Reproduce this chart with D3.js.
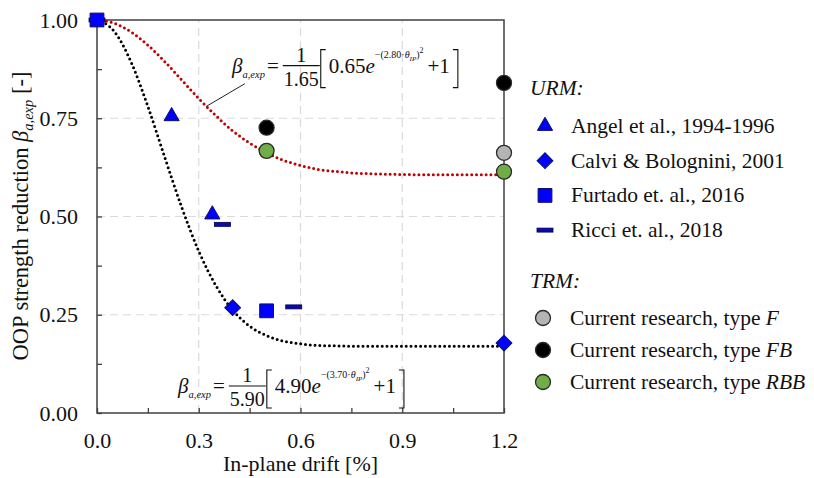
<!DOCTYPE html>
<html>
<head>
<script src="https://cdnjs.cloudflare.com/ajax/libs/d3/7.8.5/d3.min.js"></script>
<style>
  body { margin: 0; padding: 0; background: #fff; }
  svg text { font-family: "Liberation Serif", "DejaVu Serif", serif; fill: #111; }
  .tick text { font-size: 22px; }
  .tick line { stroke: #404040; stroke-width: 1.3; }
</style>
</head>
<body>
<svg id="chart" width="814" height="478" font-family="Liberation Serif"></svg>
<script>
// fitted curves
const fitDrift = [0, 0.05, 0.1, 0.15, 0.2, 0.25, 0.3, 0.35, 0.4, 0.45, 0.5, 0.55, 0.6, 0.65, 0.7, 0.75, 0.8, 0.9, 1.0, 1.1, 1.2];
const fitTRM = [1.000, 0.992, 0.970, 0.936, 0.894, 0.847, 0.800, 0.757, 0.718, 0.687, 0.662, 0.643, 0.630, 0.620, 0.615, 0.611, 0.609, 0.607, 0.606, 0.606, 0.606];
const fitURM = [1.000, 0.972, 0.894, 0.780, 0.650, 0.523, 0.412, 0.325, 0.262, 0.221, 0.197, 0.183, 0.176, 0.172, 0.171, 0.170, 0.170, 0.170, 0.170, 0.170, 0.170];

// test points
const angelDrift = [0.22, 0.34];
const angelBeta = [0.755, 0.505];
const calviDrift = [0.40, 1.20];
const calviBeta = [0.268, 0.178];
const ricciDrift = [0.0, 0.37, 0.58];
const ricciBeta = [1.0, 0.48, 0.27];
const furtadoDrift = [0.0, 0.50];
const furtadoBeta = [1.0, 0.26];
const typeFDrift = [1.20];
const typeFBeta = [0.662];
const typeFBDrift = [0.50, 1.20];
const typeFBBeta = [0.726, 0.840];
const typeRBBDrift = [0.50, 1.20];
const typeRBBBeta = [0.667, 0.614];

const xTicks = [0, 0.15, 0.3, 0.45, 0.6, 0.75, 0.9, 1.05, 1.2];
const xLabels = ['0.0', '', '0.3', '', '0.6', '', '0.9', '', '1.2'];
const yTicks = [0, 0.125, 0.25, 0.375, 0.5, 0.625, 0.75, 0.875, 1];
const yLabels = ['0.00', '', '0.25', '', '0.50', '', '0.75', '', '1.00'];

const svg = d3.select('#chart');
const x = d3.scaleLinear().domain([0, 1.2]).range([97, 504]);
const y = d3.scaleLinear().domain([0, 1]).range([413, 20]);

// grid
const grid = svg.append('g').attr('stroke', '#dadada').attr('stroke-width', 1.2).attr('stroke-dasharray', '8,5');
grid.selectAll('.gx').data([0.3, 0.6, 0.9]).enter().append('line')
  .attr('x1', d => x(d)).attr('x2', d => x(d)).attr('y1', y(0)).attr('y2', y(1));
grid.selectAll('.gy').data([0.25, 0.5, 0.75]).enter().append('line')
  .attr('y1', d => y(d)).attr('y2', d => y(d)).attr('x1', x(0)).attr('x2', x(1.2));

// axes
const xAxis = d3.axisBottom(x).tickValues(xTicks).tickSize(-5).tickPadding(19)
  .tickFormat((d, i) => xLabels[i]);
const yAxis = d3.axisLeft(y).tickValues(yTicks).tickSize(-5).tickPadding(19)
  .tickFormat((d, i) => yLabels[i]);
svg.append('g').attr('transform', `translate(0,${y(0)})`).call(xAxis)
  .attr('font-family', null).attr('font-size', null)
  .call(g => g.select('.domain').remove());
svg.append('g').attr('transform', `translate(${x(0)},0)`).call(yAxis)
  .attr('font-family', null).attr('font-size', null)
  .call(g => g.select('.domain').remove());

svg.append('rect').attr('x', x(0)).attr('y', y(1)).attr('width', x(1.2) - x(0)).attr('height', y(0) - y(1))
  .attr('fill', 'none').attr('stroke', '#404040').attr('stroke-width', 1.5);

// axis titles
svg.append('text').attr('x', (x(0) + x(1.2)) / 2).attr('y', 471).attr('text-anchor', 'middle')
  .style('font-size', '22px').text('In-plane drift [%]');
const yt = svg.append('text').attr('transform', 'translate(28,216) rotate(-90)').attr('text-anchor', 'middle')
  .style('font-size', '22.5px');
yt.append('tspan').text('OOP strength reduction ');
yt.append('tspan').style('font-style', 'italic').text('β');
yt.append('tspan').style('font-style', 'italic').style('font-size', '14.5px').attr('dy', 5).text('a,exp');
yt.append('tspan').attr('dy', -5).text(' [-]');

// fitted curves
const line = d3.line().x(d => x(d[0])).y(d => y(d[1])).curve(d3.curveMonotoneX);
svg.append('path').datum(d3.zip(fitDrift, fitURM)).attr('d', line)
  .attr('fill', 'none').attr('stroke', '#000').attr('stroke-width', 3)
  .attr('stroke-linecap', 'round').attr('stroke-dasharray', '0,4.8');
svg.append('path').datum(d3.zip(fitDrift, fitTRM)).attr('d', line)
  .attr('fill', 'none').attr('stroke', '#c00000').attr('stroke-width', 3)
  .attr('stroke-linecap', 'round').attr('stroke-dasharray', '0,4.8');

// markers
const blue = '#0000ff', blueEdge = '#101060';
function drawSym(g, type) {
  if (type === 'triangle') {
    g.append('path').attr('d', d3.symbol(d3.symbolTriangle, 100)()).attr('fill', blue).attr('stroke', blueEdge).attr('stroke-width', 1);
  } else if (type === 'diamond') {
    g.append('path').attr('d', d3.symbol(d3.symbolSquare, 125)()).attr('transform', 'rotate(45)')
      .attr('fill', blue).attr('stroke', blueEdge).attr('stroke-width', 1);
  } else if (type === 'square') {
    g.append('path').attr('d', d3.symbol(d3.symbolSquare, 190)()).attr('fill', blue).attr('stroke', blueEdge).attr('stroke-width', 1);
  } else if (type === 'dash') {
    g.append('rect').attr('x', -8).attr('y', -2).attr('width', 16).attr('height', 4)
      .attr('fill', '#0a0ab4').attr('stroke', '#000050').attr('stroke-width', 0.8);
  } else {
    g.append('circle').attr('r', 7.5).attr('fill', type).attr('stroke', '#2a2a2a').attr('stroke-width', 1.3);
  }
}
const series = [
  { name: 'Angel et al., 1994-1996', sym: 'triangle', xs: angelDrift, ys: angelBeta },
  { name: 'Calvi & Bolognini, 2001', sym: 'diamond', xs: calviDrift, ys: calviBeta },
  { name: 'Ricci et. al., 2018', sym: 'dash', xs: ricciDrift, ys: ricciBeta },
  { name: 'Furtado et. al., 2016', sym: 'square', xs: furtadoDrift, ys: furtadoBeta },
  { name: 'F', sym: '#b4b4b4', xs: typeFDrift, ys: typeFBeta },
  { name: 'FB', sym: '#000000', xs: typeFBDrift, ys: typeFBBeta },
  { name: 'RBB', sym: '#70ad47', xs: typeRBBDrift, ys: typeRBBBeta }
];
series.forEach(s => {
  d3.zip(s.xs, s.ys).forEach(p => {
    drawSym(svg.append('g').attr('transform', `translate(${x(p[0])},${y(p[1])})`), s.sym);
  });
});

// equations
function drawEquation(px, py, den, coef, k, sub) {
  const g = svg.append('g').attr('transform', `translate(${px},${py})`);
  let cx = 0;
  function put(str, o = {}) {
    const t = g.append('text').attr('x', o.x !== undefined ? o.x : cx).attr('y', o.y || 0)
      .attr('text-anchor', o.anchor || 'start')
      .style('font-size', (o.size || 21) + 'px')
      .style('font-style', o.italic ? 'italic' : 'normal')
      .text(str);
    return t.node().getComputedTextLength();
  }
  cx += put('β', { italic: true });
  cx += put('a,exp', { italic: true, size: 10.5, y: 5 }) + 2;
  cx += put('=') + 5;
  const wd = put(den, { y: 13, size: 20 });
  put('1', { x: cx + wd / 2, y: -11, anchor: 'middle', size: 20 });
  g.append('line').attr('x1', cx - 1).attr('x2', cx + wd + 1).attr('y1', -7).attr('y2', -7)
    .attr('stroke', '#111').attr('stroke-width', 1.1);
  cx += wd + 2;
  g.append('path').attr('d', `M${cx + 5},-23H${cx}V15H${cx + 5}`).attr('fill', 'none').attr('stroke', '#111').attr('stroke-width', 1.1);
  cx += 8;
  cx += put(coef);
  cx += put('e', { italic: true });
  cx += put('−(' + k + '·', { size: 10, y: -15 });
  cx += put('θ', { size: 10, y: -15, italic: true });
  cx += put(sub, { size: 7, y: -12, italic: true });
  cx += put(')', { size: 10, y: -15 });
  cx += put('2', { size: 8, y: -20 });
  cx += 4;
  cx += put('+1') + 3;
  g.append('path').attr('d', `M${cx},-23H${cx + 5}V15H${cx}`).attr('fill', 'none').attr('stroke', '#111').attr('stroke-width', 1.1);
}
drawEquation(x(0.398), y(0.866), '1.65', '0.65', '2.80', 'IP');
drawEquation(x(0.239), y(0.051), '5.90', '4.90', '3.70', 'IP');
svg.append('line').attr('x1', x(0.322)).attr('y1', y(0.78)).attr('x2', x(0.436)).attr('y2', y(0.838))
  .attr('stroke', '#222').attr('stroke-width', 1);

// legend
const legend = svg.append('g').style('font-size', '21.5px');
legend.append('text').attr('x', 530).attr('y', 95).style('font-style', 'italic').text('URM:');
const urm = [series[0], series[1], series[3], series[2]];
urm.forEach((s, i) => {
  const yy = 126 + i * 34.7;
  drawSym(legend.append('g').attr('transform', `translate(545,${yy})`), s.sym);
  legend.append('text').attr('x', 571).attr('y', yy + 7).text(s.name);
});
legend.append('text').attr('x', 530).attr('y', 288).style('font-style', 'italic').text('TRM:');
series.slice(4).forEach((s, i) => {
  const yy = 318 + i * 32;
  drawSym(legend.append('g').attr('transform', `translate(543,${yy})`), s.sym);
  const t = legend.append('text').attr('x', 570).attr('y', yy + 7);
  t.append('tspan').text('Current research, type ');
  t.append('tspan').style('font-style', 'italic').text(s.name);
});
</script>
</body>
</html>
